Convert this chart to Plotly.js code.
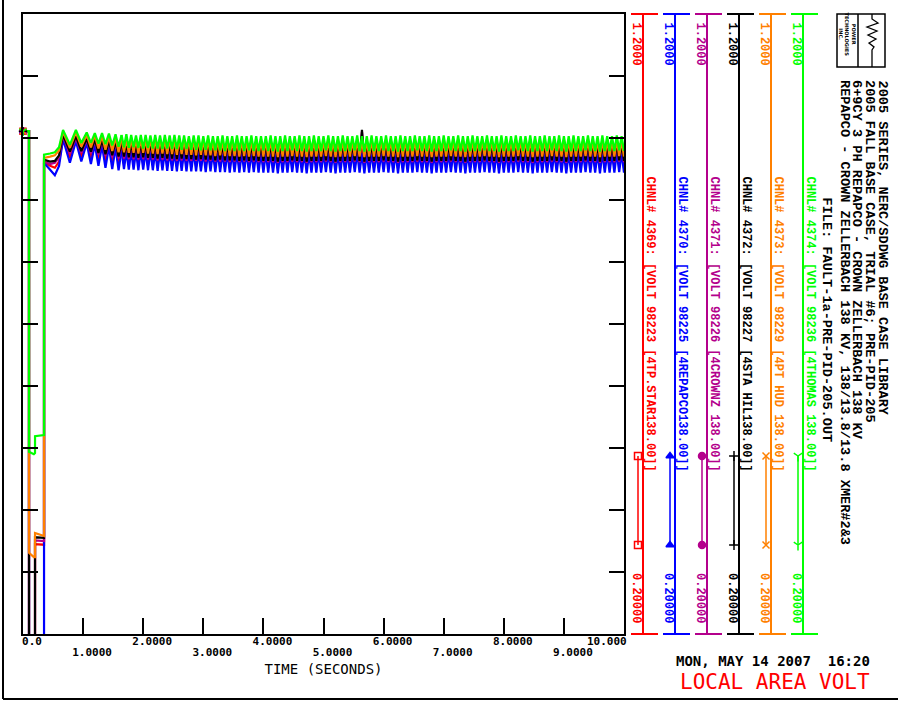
<!DOCTYPE html>
<html><head><meta charset="utf-8">
<script src="https://cdn.plot.ly/plotly-3.0.1.min.js"></script>
<style>html,body{margin:0;padding:0;background:#fff;}#chart{width:898px;height:702px;}</style>
</head><body><div id="chart"></div>
<script>
// ---------------- DATA ----------------
const seriesNames = ["CHNL# 4369: [VOLT 98223 [4TP.STAR138.00]]","CHNL# 4370: [VOLT 98225 [4REPAPCO138.00]]","CHNL# 4371: [VOLT 98226 [4CROWNZ 138.00]]","CHNL# 4372: [VOLT 98227 [4STA HIL138.00]]","CHNL# 4373: [VOLT 98229 [4PT HUD 138.00]]","CHNL# 4374: [VOLT 98236 [4THOMAS 138.00]]"];
const scaleMaxText = "1.2000";
const scaleMinText = "0.20000";
const xTickValsEven = [0,2,4,6,8,10];
const xTickTextEven = ["0.0","2.0000","4.0000","6.0000","8.0000",""];
const xTickValsOdd = [1,3,5,7,9];
const xTickTextOdd = ["1.0000","3.0000","5.0000","7.0000","9.0000"];
const lastTickText = "10.000";
const titleLines = ["2005 SERIES, NERC/SDDWG BASE CASE LIBRARY","2005 FALL BASE CASE, TRIAL #6; PRE-PID-205","6+9CY 3 PH REPAPCO - CROWN ZELLERBACH 138 KV","REPAPCO - CROWN ZELLERBACH 138 KV, 138/13.8/13.8 XMER#2&3"];
const fileLine = "FILE: FAULT-1a-PRE-PID-205.OUT";
const dateText = "MON, MAY 14 2007\u00a0\u00a016:20";
const plotName = "LOCAL AREA VOLT";

// time of the fault / clearing part (s)
const tEarly = [0.0,0.1,0.1001,0.18,0.2,0.2001,0.35,0.3501,0.45,0.53,0.6,0.666,0.78,0.88,0.97,1.06,1.13,1.195,1.255,1.315,1.372,1.43,1.485,1.54,1.59,1.64];
const redEarly     = [1.011,1.011,0.05,0.05,0.05,0.345,0.344,0.962,0.955,0.952,0.962,1.000,0.968,0.998,0.970,0.995,0.968,0.993,0.965,0.992,0.963,0.990,0.960,0.989,0.958,0.985];
const blueEarly    = [1.011,1.011,0.05,0.05,0.05,0.05,0.05,0.960,0.948,0.940,0.955,0.998,0.960,0.995,0.962,0.992,0.958,0.990,0.955,0.988,0.952,0.986,0.950,0.985,0.948,0.980];
const magentaEarly = [1.011,1.011,0.05,0.05,0.05,0.351,0.350,0.962,0.958,0.960,0.969,1.003,0.975,1.000,0.976,0.997,0.975,0.996,0.973,0.995,0.971,0.994,0.969,0.993,0.967,0.991];
const blackEarly   = [1.011,1.011,0.05,0.05,0.05,0.356,0.355,0.965,0.962,0.963,0.972,1.005,0.978,1.003,0.979,0.999,0.978,0.998,0.976,0.997,0.974,0.996,0.972,0.995,0.970,0.993];
const orangeEarly  = [1.011,1.011,0.331,0.324,0.324,0.363,0.358,0.968,0.970,0.972,0.980,1.010,0.984,1.009,0.986,1.005,0.985,1.004,0.983,1.003,0.981,1.002,0.979,1.001,0.977,1.000];
const greenEarly   = [1.011,1.011,0.494,0.490,0.492,0.519,0.521,0.973,0.975,0.977,0.985,1.013,0.989,1.013,0.992,1.009,0.992,1.008,0.991,1.008,0.990,1.007,0.988,1.006,0.986,1.005];

// sustained oscillation, sampled every lateStep seconds from lateStart
const lateStart = 1.64;
const lateStep = 0.04;
const redLate = [
0.985,0.958,0.984,0.957,0.985,0.957,0.984,0.956,0.985,0.957,
0.984,0.956,0.985,0.956,0.984,0.955,0.984,0.956,0.983,0.955,
0.984,0.955,0.983,0.954,0.984,0.955,0.983,0.954,0.984,0.954,
0.983,0.954,0.984,0.954,0.983,0.953,0.983,0.954,0.982,0.953,
0.983,0.953,0.982,0.953,0.983,0.952,0.982,0.953,0.983,0.952,
0.982,0.953,0.983,0.952,0.982,0.953,0.982,0.952,0.983,0.952,
0.982,0.952,0.983,0.952,0.982,0.951,0.982,0.952,0.983,0.952,
0.982,0.953,0.982,0.952,0.983,0.952,0.982,0.951,0.982,0.952,
0.983,0.952,0.982,0.952,0.982,0.953,0.983,0.952,0.982,0.951,
0.982,0.952,0.983,0.952,0.982,0.952,0.982,0.953,0.983,0.952,
0.982,0.951,0.982,0.952,0.983,0.952,0.982,0.952,0.982,0.953,
0.983,0.952,0.982,0.952,0.982,0.951,0.983,0.952,0.982,0.952,
0.982,0.952,0.983,0.953,0.982,0.952,0.982,0.952,0.983,0.951,
0.982,0.952,0.982,0.952,0.983,0.952,0.982,0.953,0.982,0.952,
0.983,0.952,0.982,0.951,0.982,0.952,0.983,0.952,0.982,0.952,
0.982,0.953,0.983,0.952,0.982,0.952,0.982,0.951,0.983,0.952,
0.982,0.952,0.982,0.952,0.983,0.953,0.982,0.952,0.982,0.952,
0.983,0.951,0.982,0.952,0.982,0.952,0.983,0.952,0.982,0.953,
0.982,0.952,0.983,0.952,0.982,0.951,0.982,0.952,0.983,0.952,
0.982,0.952,0.982,0.953,0.983,0.952,0.982,0.952,0.982,0.951,
0.983,0.952,0.982,0.952,0.982,0.952,0.983,0.953,0.982,0.952];
const blueLate = [
0.980,0.950,0.979,0.949,0.980,0.949,0.979,0.948,0.980,0.949,
0.979,0.948,0.980,0.948,0.979,0.947,0.979,0.948,0.978,0.947,
0.979,0.947,0.978,0.946,0.979,0.947,0.978,0.946,0.979,0.946,
0.978,0.946,0.979,0.946,0.978,0.945,0.978,0.946,0.977,0.945,
0.978,0.945,0.977,0.945,0.978,0.944,0.977,0.945,0.978,0.944,
0.977,0.945,0.978,0.944,0.977,0.945,0.977,0.944,0.978,0.944,
0.976,0.944,0.977,0.944,0.976,0.943,0.976,0.944,0.977,0.944,
0.976,0.945,0.976,0.944,0.977,0.944,0.976,0.943,0.976,0.944,
0.977,0.944,0.976,0.944,0.976,0.945,0.977,0.944,0.976,0.943,
0.976,0.944,0.977,0.944,0.976,0.944,0.976,0.945,0.977,0.944,
0.976,0.943,0.976,0.944,0.977,0.944,0.976,0.944,0.976,0.945,
0.977,0.944,0.976,0.944,0.976,0.943,0.977,0.944,0.976,0.944,
0.976,0.944,0.977,0.945,0.976,0.944,0.976,0.944,0.977,0.943,
0.976,0.944,0.976,0.944,0.977,0.944,0.976,0.945,0.976,0.944,
0.977,0.944,0.976,0.943,0.976,0.944,0.977,0.944,0.976,0.944,
0.976,0.945,0.977,0.944,0.976,0.944,0.976,0.943,0.977,0.944,
0.976,0.944,0.976,0.944,0.977,0.945,0.976,0.944,0.976,0.944,
0.977,0.943,0.976,0.944,0.976,0.944,0.977,0.944,0.976,0.945,
0.976,0.944,0.977,0.944,0.976,0.943,0.976,0.944,0.977,0.944,
0.976,0.944,0.976,0.945,0.977,0.944,0.976,0.944,0.976,0.943,
0.977,0.944,0.976,0.944,0.976,0.944,0.977,0.945,0.976,0.944];
const magentaLate = [
0.991,0.967,0.990,0.966,0.991,0.966,0.990,0.965,0.991,0.966,
0.990,0.965,0.991,0.965,0.990,0.964,0.990,0.965,0.989,0.964,
0.990,0.964,0.989,0.963,0.990,0.964,0.989,0.963,0.990,0.963,
0.989,0.963,0.990,0.963,0.989,0.962,0.989,0.963,0.988,0.962,
0.989,0.962,0.988,0.962,0.989,0.961,0.988,0.962,0.989,0.961,
0.988,0.962,0.989,0.961,0.988,0.962,0.988,0.961,0.989,0.961,
0.988,0.961,0.989,0.961,0.988,0.960,0.988,0.961,0.989,0.961,
0.988,0.962,0.988,0.961,0.989,0.961,0.988,0.960,0.988,0.961,
0.989,0.961,0.988,0.961,0.988,0.962,0.989,0.961,0.988,0.960,
0.988,0.961,0.989,0.961,0.988,0.961,0.988,0.962,0.989,0.961,
1.010,0.960,0.988,0.961,0.989,0.961,0.988,0.961,0.988,0.962,
0.989,0.961,0.988,0.961,0.988,0.960,0.989,0.961,0.988,0.961,
0.988,0.961,0.989,0.962,0.988,0.961,0.988,0.961,0.989,0.960,
0.988,0.961,0.988,0.961,0.989,0.961,0.988,0.962,0.988,0.961,
0.989,0.961,0.988,0.960,0.988,0.961,0.989,0.961,0.988,0.961,
0.988,0.962,0.989,0.961,0.988,0.961,0.988,0.960,0.989,0.961,
0.988,0.961,0.988,0.961,0.989,0.962,0.988,0.961,0.988,0.961,
0.989,0.960,0.988,0.961,0.988,0.961,0.989,0.961,0.988,0.962,
0.988,0.961,0.989,0.961,0.988,0.960,0.988,0.961,0.989,0.961,
0.988,0.961,0.988,0.962,0.989,0.961,0.988,0.961,0.988,0.960,
0.989,0.961,0.988,0.961,0.988,0.961,0.989,0.962,0.988,0.961];
const blackLate = [
0.993,0.970,0.992,0.969,0.993,0.969,0.992,0.968,0.993,0.969,
0.992,0.968,0.993,0.968,0.992,0.967,0.992,0.968,0.991,0.967,
0.992,0.967,0.991,0.966,0.992,0.967,0.991,0.966,0.992,0.966,
0.991,0.965,0.992,0.966,0.991,0.965,0.991,0.965,0.990,0.964,
0.991,0.965,0.990,0.964,0.991,0.964,0.990,0.964,0.991,0.963,
0.990,0.964,0.991,0.963,0.990,0.964,0.990,0.963,0.991,0.963,
0.990,0.963,0.991,0.963,0.990,0.962,0.990,0.963,0.991,0.963,
0.990,0.964,0.990,0.963,0.991,0.963,0.990,0.962,0.990,0.963,
0.991,0.963,0.990,0.963,0.990,0.964,0.991,0.963,0.990,0.962,
0.990,0.963,0.991,0.963,0.990,0.963,0.990,0.964,0.991,0.963,
1.013,0.962,0.990,0.963,0.991,0.963,0.990,0.963,0.990,0.964,
0.991,0.963,0.990,0.963,0.990,0.962,0.991,0.963,0.990,0.963,
0.990,0.963,0.991,0.964,0.990,0.963,0.990,0.963,0.991,0.962,
0.990,0.963,0.990,0.963,0.991,0.963,0.990,0.964,0.990,0.963,
0.991,0.963,0.990,0.962,0.990,0.963,0.991,0.963,0.990,0.963,
0.990,0.964,0.991,0.963,0.990,0.963,0.990,0.962,0.991,0.963,
0.990,0.963,0.990,0.963,0.991,0.964,0.990,0.963,0.990,0.963,
0.991,0.962,0.990,0.963,0.990,0.963,0.991,0.963,0.990,0.964,
0.990,0.963,0.991,0.963,0.990,0.962,0.990,0.963,0.991,0.963,
0.990,0.963,0.990,0.964,0.991,0.963,0.990,0.963,0.990,0.962,
0.991,0.963,0.990,0.963,0.990,0.963,0.991,0.964,0.990,0.963];
const orangeLate = [
1.000,0.977,0.999,0.976,1.000,0.976,0.999,0.975,1.000,0.976,
0.999,0.975,1.000,0.975,0.999,0.974,0.999,0.975,0.998,0.974,
0.999,0.974,0.998,0.973,0.999,0.974,0.998,0.973,0.999,0.973,
0.998,0.972,0.999,0.973,0.998,0.972,0.998,0.972,0.997,0.971,
0.998,0.972,0.997,0.971,0.998,0.971,0.997,0.971,0.998,0.970,
0.997,0.971,0.998,0.970,0.997,0.971,0.997,0.970,0.998,0.970,
0.997,0.970,0.998,0.970,0.997,0.969,0.997,0.970,0.998,0.970,
0.997,0.971,0.997,0.970,0.998,0.970,0.997,0.969,0.997,0.970,
0.998,0.970,0.997,0.970,0.997,0.971,0.998,0.970,0.997,0.969,
0.997,0.970,0.998,0.970,0.997,0.970,0.997,0.971,0.998,0.970,
0.997,0.969,0.997,0.970,0.998,0.970,0.997,0.970,0.997,0.971,
0.998,0.970,0.997,0.970,0.997,0.969,0.998,0.970,0.997,0.970,
0.997,0.970,0.998,0.971,0.997,0.970,0.997,0.970,0.998,0.969,
0.997,0.970,0.997,0.970,0.998,0.970,0.997,0.971,0.997,0.970,
0.998,0.970,0.997,0.969,0.997,0.970,0.998,0.970,0.997,0.970,
0.997,0.971,0.998,0.970,0.997,0.970,0.997,0.969,0.998,0.970,
0.997,0.970,0.997,0.970,0.998,0.971,0.997,0.970,0.997,0.970,
0.998,0.969,0.997,0.970,0.997,0.970,0.998,0.970,0.997,0.971,
0.997,0.970,0.998,0.970,0.997,0.969,0.997,0.970,0.998,0.970,
0.997,0.970,0.997,0.971,0.998,0.970,0.997,0.970,0.997,0.969,
0.998,0.970,0.997,0.970,0.997,0.970,0.998,0.971,0.997,0.970];
const greenLate = [
1.005,0.985,1.006,0.984,1.005,0.985,1.004,0.984,1.005,0.983,
1.005,0.984,1.004,0.983,1.005,0.983,1.004,0.982,1.005,0.983,
1.004,0.982,1.005,0.982,1.004,0.981,1.004,0.982,1.003,0.981,
1.004,0.981,1.004,0.980,1.003,0.981,1.004,0.980,1.003,0.980,
1.003,0.980,1.004,0.979,1.003,0.980,1.003,0.979,1.004,0.980,
1.003,0.979,1.003,0.980,1.004,0.979,1.003,0.979,1.003,0.980,
1.003,0.979,1.004,0.979,1.003,0.978,1.003,0.979,1.004,0.979,
1.003,0.980,1.003,0.979,1.004,0.979,1.003,0.978,1.003,0.979,
1.004,0.979,1.003,0.979,1.003,0.980,1.004,0.979,1.003,0.978,
1.003,0.979,1.004,0.979,1.003,0.979,1.003,0.980,1.004,0.979,
1.003,0.978,1.003,0.979,1.004,0.979,1.003,0.979,1.003,0.980,
1.004,0.979,1.003,0.979,1.003,0.978,1.004,0.979,1.003,0.979,
1.003,0.979,1.004,0.980,1.003,0.979,1.003,0.979,1.004,0.978,
1.003,0.979,1.003,0.979,1.004,0.979,1.003,0.980,1.003,0.979,
1.004,0.979,1.003,0.978,1.003,0.979,1.004,0.979,1.003,0.979,
1.003,0.980,1.004,0.979,1.003,0.979,1.003,0.978,1.004,0.979,
1.003,0.979,1.003,0.979,1.004,0.980,1.003,0.979,1.003,0.979,
1.004,0.978,1.003,0.979,1.003,0.979,1.004,0.979,1.003,0.980,
1.003,0.979,1.004,0.979,1.003,0.978,1.003,0.979,1.004,0.979,
1.003,0.979,1.003,0.980,1.004,0.979,1.003,0.979,1.003,0.978,
1.004,0.979,1.003,0.979,1.003,0.979,1.004,0.980,1.003,0.979];

// ---------------- STYLE / LAYOUT ----------------
const W = 898, H = 702;
const plotL = 23, plotR = 624, plotT = 14, plotB = 634;
const colors = ["#ff0000","#0000ff","#b4008c","#000000","#ff8000","#00ff00"];
const symbols = ["square-open","triangle-up","circle","cross-thin-open","x-thin-open","y-down-open"];
const early = [redEarly, blueEarly, magentaEarly, blackEarly, orangeEarly, greenEarly];
const late = [redLate, blueLate, magentaLate, blackLate, orangeLate, greenLate];
const legendX = [643, 675, 707, 739, 771, 803];
const mono = "DejaVu Sans Mono";
const mono2 = "Liberation Mono";

const traces = [];
for (let i = 0; i < 6; i++) {
  const ln = {color: colors[i], width: 2.2};
  traces.push({type:"scatter", mode:"lines", x:tEarly, y:early[i], line:ln, hoverinfo:"skip", xaxis:"x", yaxis:"y"});
  traces.push({type:"scatter", mode:"lines", x0:lateStart, dx:lateStep, y:late[i], line:ln, hoverinfo:"skip", xaxis:"x", yaxis:"y"});
}
for (let i = 0; i < 6; i++) {
  traces.push({type:"scatter", mode:"markers", x:[tEarly[0]], y:[early[i][0]], cliponaxis:false,
    marker:{symbol:symbols[i], size:6, color:colors[i], line:{color:colors[i], width:1.5}}, hoverinfo:"skip", xaxis:"x", yaxis:"y"});
}
// empty trace so the odd-label axis exists
traces.push({type:"scatter", mode:"lines", x:[], y:[], xaxis:"x3", yaxis:"y", hoverinfo:"skip"});
// legend glyph segments (decoration, pixel space)
for (let i = 0; i < 6; i++) {
  const gx = legendX[i] - 5;
  traces.push({type:"scatter", mode:"lines+markers", x:[gx, gx], y:[456, 545], xaxis:"x2", yaxis:"y2",
    line:{color:colors[i], width:1.5}, marker:{symbol:symbols[i], size:7, color:colors[i], line:{color:colors[i], width:1.5}}, hoverinfo:"skip"});
}

const shapes = [];
const annotations = [];
const ln = (x0,y0,x1,y1,c,w) => shapes.push({type:"line", xref:"x2", yref:"y2", x0:x0, y0:y0, x1:x1, y1:y1, line:{color:c, width:w}});
// outer frame
ln(3, 0, 3, 699, "#000", 2);
ln(3, 699, 898, 699, "#000", 2);
for (let i = 0; i < 6; i++) {
  const L = legendX[i], c = colors[i];
  ln(L, plotT, L, plotB, c, 2);
  ln(L-12, plotT, L+15, plotT, c, 2);
  ln(L-12, plotB, L+15, plotB, c, 2);
  const f = {family: mono2, size: 12, color: c, weight: "bold"};
  annotations.push({xref:"x2", yref:"y2", x:L-7, y:20, text:scaleMaxText, textangle:90, xanchor:"center", yanchor:"top", showarrow:false, font:f});
  annotations.push({xref:"x2", yref:"y2", x:L-7, y:625, text:scaleMinText, textangle:90, xanchor:"center", yanchor:"bottom", showarrow:false, font:f});
  annotations.push({xref:"x2", yref:"y2", x:L+7, y:174, text:seriesNames[i], textangle:90, xanchor:"center", yanchor:"top", showarrow:false, font:f});
}
// title block
const titleX = [882, 869.5, 857, 844.5];
const titleFont = {family: mono2, size: 13.6, color:"#000", weight:"bold"};
for (let k = 0; k < titleLines.length; k++) {
  annotations.push({xref:"x2", yref:"y2", x:titleX[k], y:78, text:titleLines[k], textangle:90, xanchor:"center", yanchor:"top", showarrow:false, font:titleFont});
}
annotations.push({xref:"x2", yref:"y2", x:826, y:195, text:fileLine, textangle:90, xanchor:"center", yanchor:"top", showarrow:false, font:titleFont});
// logo
shapes.push({type:"rect", xref:"x2", yref:"y2", x0:837, y0:14, x1:885, y1:67, line:{color:"#000", width:1.5}});
ln(858, 14, 858, 67, "#000", 1.5);
shapes.push({type:"path", xref:"x2", yref:"y2", path:"M 872 14 L 872 19 L 878 23 L 867 27 L 877 31 L 868 35 L 876 39 L 869 43 L 874 47 L 872 50 L 872 67", line:{color:"#000", width:1.3}});
annotations.push({xref:"x2", yref:"y2", x:847.5, y:34, text:"<b>POWER<br>TECHNOLOGIES<br>INC.</b>", textangle:90, xanchor:"center", yanchor:"middle", showarrow:false,
  font:{family:"DejaVu Sans", size:5, color:"#000"}});
// bottom right stamp
annotations.push({xref:"x2", yref:"y2", x:773, y:661, text:dateText, xanchor:"center", yanchor:"middle", showarrow:false,
  font:{family: mono, size: 14, color:"#000", weight:"bold"}});
annotations.push({xref:"x2", yref:"y2", x:775, y:682, text:plotName, xanchor:"center", yanchor:"middle", showarrow:false,
  font:{family: mono, size: 21, color:"#ff0000"}});
// last x tick label
annotations.push({xref:"x2", yref:"y2", x:607, y:641, text:lastTickText, xanchor:"center", yanchor:"middle", showarrow:false,
  font:{family: mono, size: 11, color:"#000", weight:"bold"}});

const tickFont = {family: mono, size: 11, color:"#000", weight:"bold"};
const xDomain = [plotL/W, plotR/W];
const layout = {
  width: W, height: H,
  margin: {l:0, r:0, t:0, b:0, pad:0},
  paper_bgcolor: "#ffffff", plot_bgcolor: "rgba(0,0,0,0)",
  showlegend: false,
  font: {family: mono, color: "#000"},
  xaxis: {domain:xDomain, range:[0,10], anchor:"y", tickmode:"array", tickvals:xTickValsEven, ticktext:xTickTextEven,
    ticks:"inside", ticklen:16, tickwidth:2, tickcolor:"#000", showline:true, linewidth:2, linecolor:"#000", mirror:true,
    showgrid:false, zeroline:false, tickangle:0, ticklabelshift:9, ticklabelstandoff:-4,
    tickfont:tickFont, fixedrange:true},
  xaxis3: {domain:xDomain, range:[0,10], anchor:"y", overlaying:"x", side:"bottom", tickmode:"array", tickvals:xTickValsOdd, ticktext:xTickTextOdd,
    ticks:"inside", ticklen:16, tickwidth:2, tickcolor:"#000", showline:false,
    showgrid:false, zeroline:false, tickangle:0, ticklabelshift:9, ticklabelstandoff:10,
    tickfont:tickFont, fixedrange:true,
    title:{text:"TIME (SECONDS)", font:{family: mono, size: 14, color:"#000"}, standoff: 6}},
  yaxis: {domain:[(H-plotB)/H, (H-plotT)/H], range:[0.2,1.2], anchor:"x", tickmode:"linear", tick0:0.2, dtick:0.1,
    ticks:"inside", ticklen:15, tickwidth:2, tickcolor:"#000", showticklabels:false, showline:true, linewidth:2, linecolor:"#000",
    mirror:"ticks", showgrid:false, zeroline:false, fixedrange:true},
  xaxis2: {domain:[0,1], range:[0,W], anchor:"y2", visible:false, fixedrange:true},
  yaxis2: {domain:[0,1], range:[H,0], anchor:"x2", visible:false, fixedrange:true},
  shapes: shapes,
  annotations: annotations
};
Plotly.newPlot("chart", traces, layout, {staticPlot:true, displayModeBar:false});
</script>
</body></html>
